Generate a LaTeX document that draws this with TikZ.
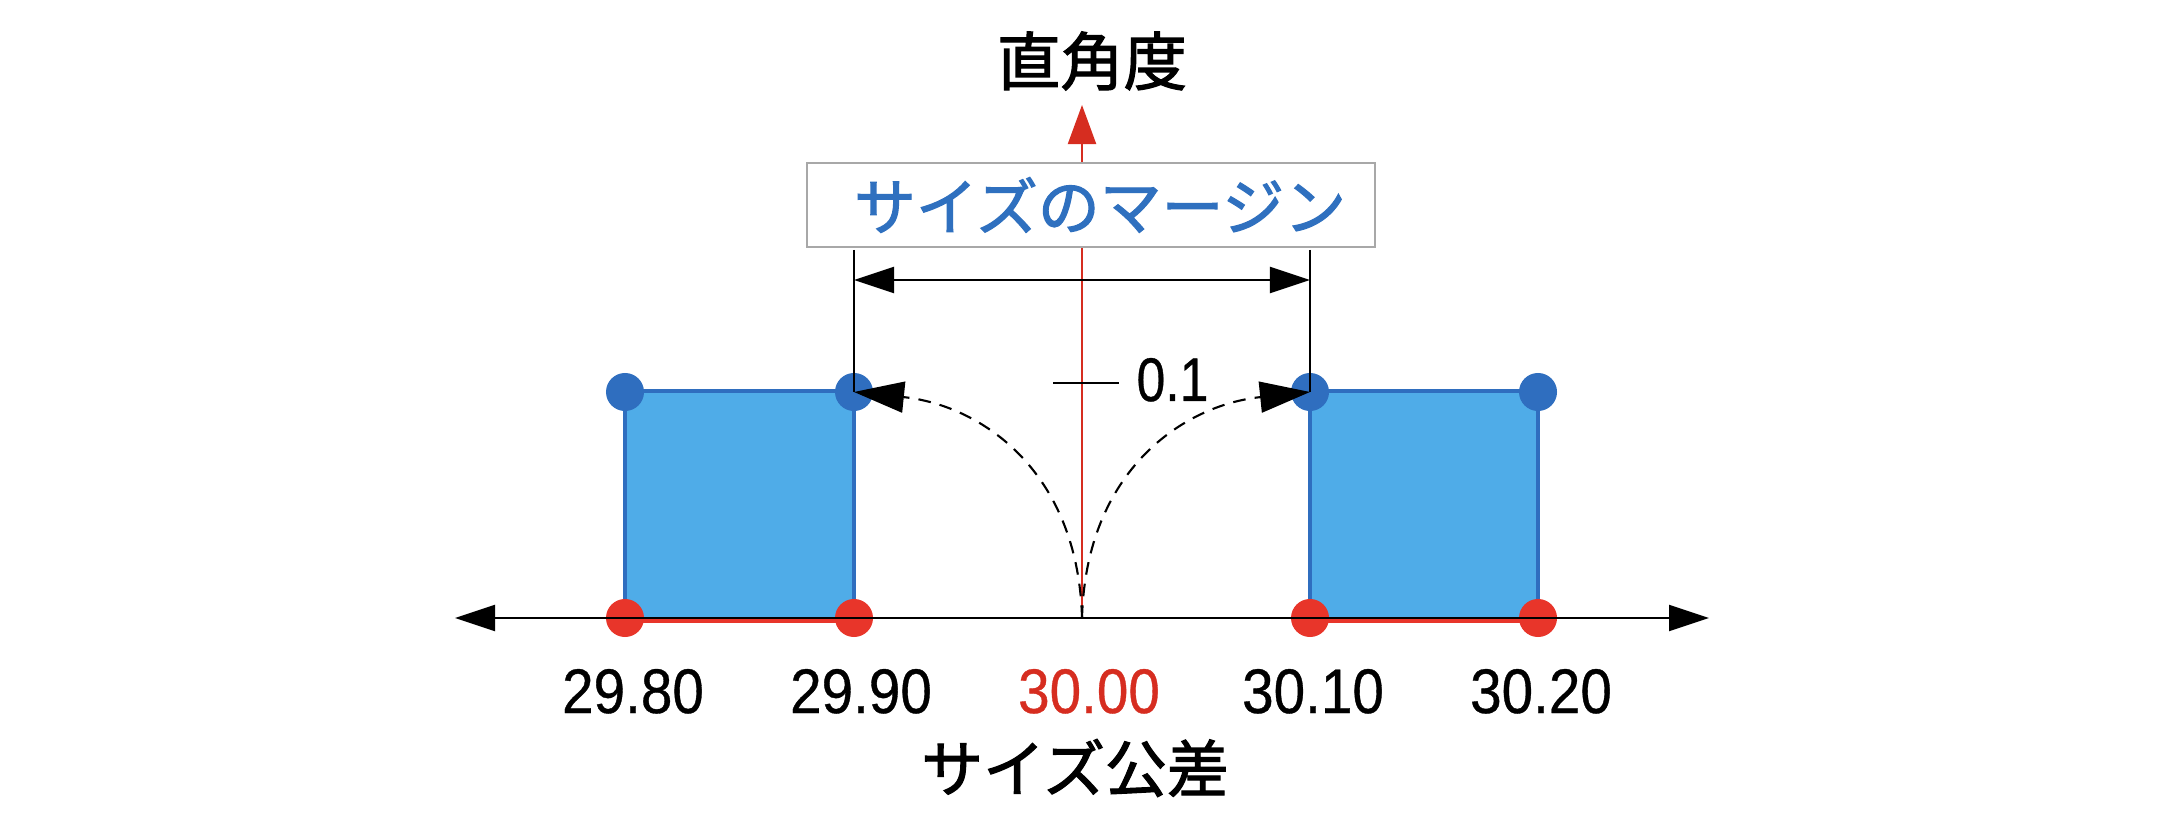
\documentclass[tikz,border=0pt]{standalone}
\usepackage{fontspec}
\setmainfont{Liberation Sans}
\newfontfamily\numfont[FakeBold=0.6]{Liberation Sans}
\newfontfamily\jp[FakeBold=1.8]{Noto Sans CJK JP}
\usetikzlibrary{arrows.meta}
\definecolor{sqfill}{HTML}{4FACE8}
\definecolor{sqedge}{HTML}{2F6EBF}
\definecolor{dotred}{HTML}{E8352A}
\definecolor{axred}{HTML}{D62D20}
\definecolor{txtblue}{HTML}{2F70BF}
\definecolor{boxgray}{HTML}{A8A8A8}
\begin{document}
\begin{tikzpicture}[x=0.01cm,y=-0.01cm,
  bdot/.style={circle, fill=sqedge, minimum size=0.38cm, inner sep=0pt},
  rdot/.style={circle, fill=dotred, minimum size=0.38cm, inner sep=0pt},
  num/.style={font=\numfont\fontsize{17.9pt}{20pt}\selectfont, inner sep=0pt, anchor=base, xscale=0.9},
  jplabel/.style={font=\jp\fontsize{17.6pt}{20pt}\selectfont, inner sep=0pt},
  sqbody/.style={fill=sqfill},
  sqside/.style={draw=sqedge, line width=1.2pt},
  sqbottom/.style={draw=dotred, line width=1.5pt},
  thinblack/.style={draw=black, line width=0.6pt},
  swing/.style={dashed, dash pattern=on 3.6pt off 2.6pt, line width=0.6pt, -{Triangle[length=0.5cm,width=0.31cm]}}
]
\useasboundingbox (0,0) rectangle (2170,828);

% coordinates
\coordinate (o) at (1082,618);
\coordinate (vtip) at (1082,105);
\coordinate (axL) at (455,618);
\coordinate (axR) at (1709,618);

% vertical red axis
\draw[draw=axred, line width=0.6pt, -{Triangle[length=0.39cm,width=0.28cm,fill=axred]}] (o) -- (vtip);

% title
\node[font=\jp\fontsize{18pt}{20pt}\selectfont, inner sep=0pt] (title) at (1092,61) {直角度};

% margin box
\node[draw=boxgray, line width=0.5pt, fill=white, minimum width=5.68cm, minimum height=0.84cm,
      font=\jp\fontsize{17.6pt}{20pt}\selectfont, text=txtblue, inner sep=0pt] (margin) at (1091,205)
      {\hspace*{0.18cm}サイズのマージン};

% squares
\fill[sqbody] (625,391) rectangle (854,618);
\fill[sqbody] (1310,391) rectangle (1538,618);
\draw[sqside] (625,618) -- (625,391) -- (854,391) -- (854,618);
\draw[sqside] (1310,618) -- (1310,391) -- (1538,391) -- (1538,618);
\draw[sqbottom] (625,620) -- (854,620);
\draw[sqbottom] (1310,620) -- (1538,620);

% dots
\node[bdot] (b1) at (625,392) {};
\node[bdot] (b2) at (854,392) {};
\node[bdot] (b3) at (1310,392) {};
\node[bdot] (b4) at (1538,392) {};
\node[rdot] (r1) at (625,618) {};
\node[rdot] (r2) at (854,618) {};
\node[rdot] (r3) at (1310,618) {};
\node[rdot] (r4) at (1538,618) {};

% extension lines and dimension
\coordinate (e1) at (854,250);
\coordinate (e2) at (1310,250);
\coordinate (d1) at (854,280);
\coordinate (d2) at (1310,280);
\draw[thinblack] (e1) -- (b2.center);
\draw[thinblack] (e2) -- (b3.center);
\draw[thinblack, {Triangle[length=0.4cm,width=0.26cm]}-{Triangle[length=0.4cm,width=0.26cm]}] (d1) -- (d2);

% horizontal axis
\draw[thinblack, {Triangle[length=0.4cm,width=0.26cm]}-{Triangle[length=0.4cm,width=0.26cm]}] (axL) -- (axR);

% dashed swings
\draw[swing] (o) .. controls (1078,470) and (980,405) .. (b2.center);
\draw[swing] (o) .. controls (1086,470) and (1184,405) .. (b3.center);

% tolerance label
\coordinate (t1) at (1053,383);
\coordinate (t2) at (1119,383);
\draw[thinblack] (t1) -- (t2);
\node[font=\numfont\fontsize{17.5pt}{20pt}\selectfont, inner sep=0pt, anchor=base west, xscale=0.84] (tol) at (1136,401) {0.1};

% numbers
\node[num] (n1) at (633,713) {29.80};
\node[num] (n2) at (861,713) {29.90};
\node[num, text=axred] (n3) at (1089,713) {30.00};
\node[num] (n4) at (1313,713) {30.10};
\node[num] (n5) at (1541,713) {30.20};

% axis label
\node[jplabel] (xlabel) at (1075,768) {サイズ公差};
\end{tikzpicture}
\end{document}
